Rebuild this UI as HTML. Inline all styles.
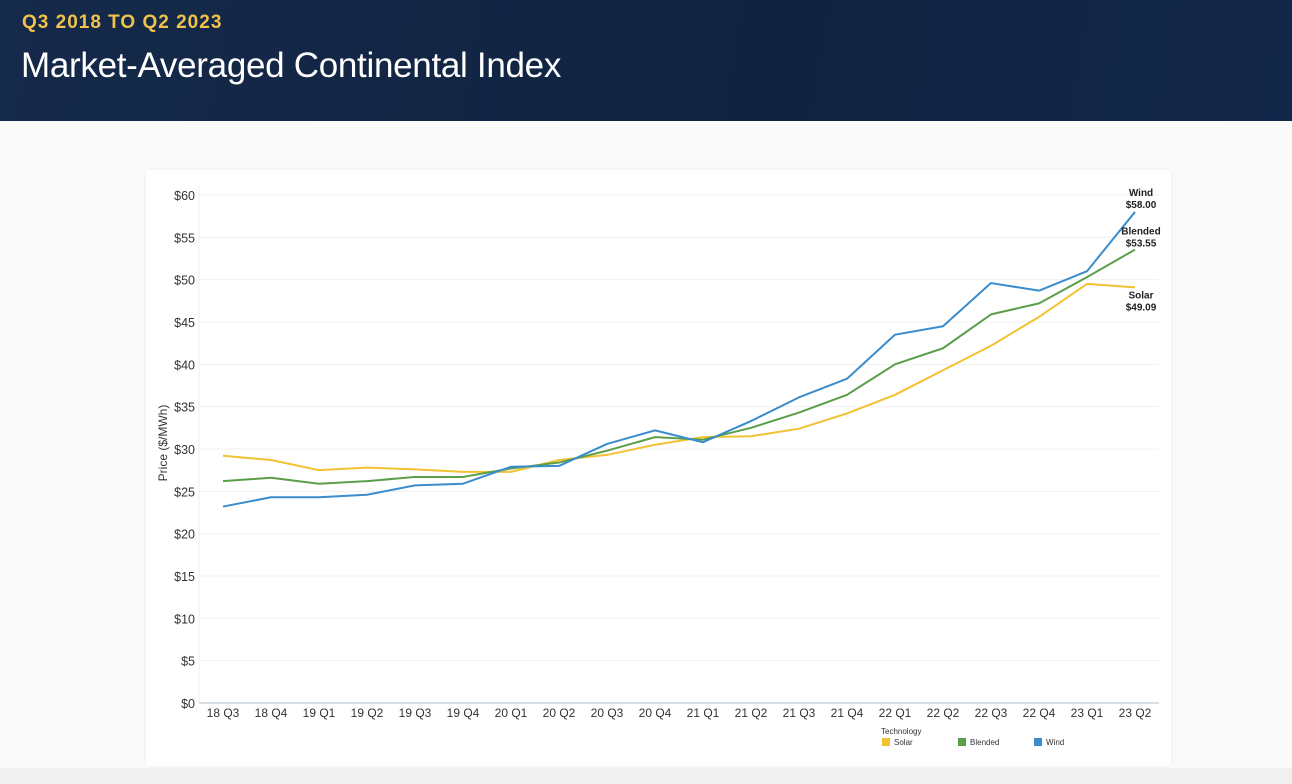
<!DOCTYPE html>
<html><head><meta charset="utf-8"><style>
body{margin:0;width:1292px;height:784px;background:#fafafa;font-family:"Liberation Sans",sans-serif;overflow:hidden;position:relative}
#hdr{position:absolute;left:0;top:0;width:1292px;height:121px;background:linear-gradient(100deg,#15294a,#112340 60%,#13274a)}
#sub{position:absolute;left:22px;top:12px;color:#f1c24a;font-weight:bold;font-size:19px;letter-spacing:1px}
#ttl{position:absolute;left:21px;top:46px;color:#fff;font-size:35px;font-weight:normal;letter-spacing:-0.3px}
#card{position:absolute;left:146px;top:170px;width:1025px;height:596px;background:#fff;box-shadow:0 0 4px rgba(0,0,0,0.06)}
#bot{position:absolute;left:0;top:768px;width:1292px;height:16px;background:#f0f0f0}
svg{position:absolute;left:0;top:0}
</style></head><body>
<div id="hdr">
<div id="sub">Q3 2018 TO Q2 2023</div>
<div id="ttl">Market-Averaged Continental Index</div>
</div>
<div id="card"></div>
<div id="bot"></div>
<svg id="chart" width="1292" height="784"></svg>
<script>
const categories=["18 Q3","18 Q4","19 Q1","19 Q2","19 Q3","19 Q4","20 Q1","20 Q2","20 Q3","20 Q4","21 Q1","21 Q2","21 Q3","21 Q4","22 Q1","22 Q2","22 Q3","22 Q4","23 Q1","23 Q2"];
const solar=[29.2,28.7,27.5,27.8,27.6,27.3,27.3,28.7,29.3,30.5,31.4,31.5,32.4,34.2,36.4,39.3,42.2,45.6,49.5,49.09];
const blended=[26.2,26.6,25.9,26.2,26.7,26.7,27.7,28.4,29.8,31.4,31.1,32.5,34.3,36.4,40.0,41.9,45.9,47.2,50.3,53.55];
const wind=[23.2,24.3,24.3,24.6,25.7,25.9,27.9,28.0,30.6,32.2,30.8,33.3,36.1,38.3,43.5,44.5,49.6,48.7,51.0,58.0];
const yTicks=[0,5,10,15,20,25,30,35,40,45,50,55,60];
const NS='http://www.w3.org/2000/svg';
const svg=document.getElementById('chart');
const X0=199,X1=1159,Y0=703,Y60=195;
const step=(X1-X0)/categories.length;
const xs=i=>X0+step*(i+0.5);
const ys=v=>Y0+(Y60-Y0)*v/60;
function mk(t,a,txt){const e=document.createElementNS(NS,t);for(const k in a)e.setAttribute(k,a[k]);if(txt!=null)e.textContent=txt;svg.appendChild(e);return e;}
yTicks.forEach(v=>{
 const g=mk('line',{x1:X0,x2:X1,y1:ys(v),y2:ys(v),stroke:v===0?'#c9d3dd':'#f0f0f0','stroke-width':v===0?1.5:1});
 
 
 const t=mk('text',{x:195,y:ys(v)+5,'text-anchor':'end','font-size':12.5,fill:'#333'},'$'+v);
 
 
});
const ax=mk('line',{x1:X0,x2:X0,y1:186,y2:Y0,stroke:'#eceff2'});


categories.forEach((c,i)=>{
 const t=mk('text',{x:xs(i),y:717,'text-anchor':'middle','font-size':12,fill:'#333'},c);
 
 
});
const yt=mk('text',{x:167,y:443,'text-anchor':'middle','font-size':12,fill:'#333',transform:'rotate(-90 167 443)'},'Price ($/MWh)');


const series=[['solar',solar,'#f2c232'],['blended',blended,'#5a9e4a'],['wind',wind,'#3a8ccc']];
series.forEach(([n,d,c])=>{
 const p=mk('polyline',{points:d.map((v,i)=>xs(i)+','+ys(v)).join(' '),fill:'none',stroke:c,'stroke-width':2,'stroke-linejoin':'round'});
 
 
});
const last=categories.length-1;
[['Wind',wind],['Blended',blended],['Solar',solar]].forEach(([n,d])=>{
 const y=n==='Solar'?ys(d[last])+11:(n==='Wind'?ys(d[last])-16:ys(d[last])-15);
 const a=mk('text',{x:1141,y:y,'text-anchor':'middle','font-size':10,'font-weight':'bold',fill:'#222'},n);
 
 
 const b=mk('text',{x:1141,y:y+12,'text-anchor':'middle','font-size':10,'font-weight':'bold',fill:'#222'},'$'+d[last].toFixed(2));
 
 
});
const lt=mk('text',{x:881,y:734,'font-size':8,fill:'#333'},'Technology');


[['Solar','#f2c232',882],['Blended','#5a9e4a',958],['Wind','#3a8ccc',1034]].forEach(([n,c,x])=>{
 const r=mk('rect',{x:x,y:738,width:8,height:8,fill:c});
 
 
 const t=mk('text',{x:x+12,y:745,'font-size':8,fill:'#333'},n);
 
 
});
</script>
</body></html>
